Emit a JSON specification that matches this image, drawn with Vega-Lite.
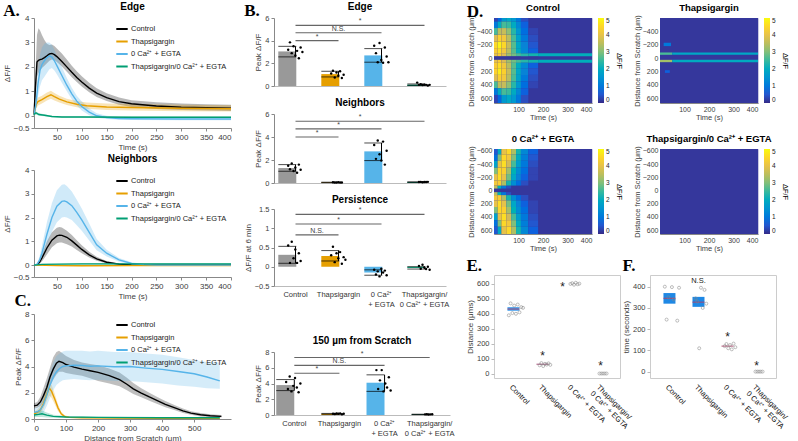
{
"$schema": "https://vega.github.io/schema/vega-lite/v6.json",
"background": "white",
"padding": {"left": 3, "right": 2, "top": 2, "bottom": 0},
"config": {
  "font": "Liberation Sans",
  "view": {"stroke": null},
  "axis": {"labelFontSize": 7.5, "titleFontSize": 8, "titleFontWeight": "normal", "labelColor": "#404040", "titleColor": "#404040", "domainColor": "#888888", "tickColor": "#888888", "grid": false, "tickSize": 3, "labelPadding": 2, "titlePadding": 2, "labelOverlap": false},
  "title": {"fontSize": 10, "fontWeight": "bold", "color": "#000000", "offset": 2},
  "legend": {"labelFontSize": 7.5, "labelColor": "#222222"}
},
"datasets": {
  "ed": [
    {"s":"Control","t":4,"v":0.05,"lo":0,"hi":0.1},{"s":"Control","t":7,"v":1.2,"lo":0.8,"hi":1.8},{"s":"Control","t":10,"v":2.2,"lo":1.6,"hi":3.3},{"s":"Control","t":13,"v":2.27,"lo":1.75,"hi":3.58},{"s":"Control","t":16,"v":2.3,"lo":1.85,"hi":3.5},{"s":"Control","t":20,"v":2.32,"lo":1.95,"hi":3.3},{"s":"Control","t":25,"v":2.38,"lo":2.05,"hi":3.1},{"s":"Control","t":30,"v":2.45,"lo":2.15,"hi":2.95},{"s":"Control","t":35,"v":2.53,"lo":2.25,"hi":2.9},{"s":"Control","t":40,"v":2.55,"lo":2.3,"hi":2.92},{"s":"Control","t":45,"v":2.5,"lo":2.28,"hi":2.85},{"s":"Control","t":50,"v":2.42,"lo":2.2,"hi":2.75},{"s":"Control","t":60,"v":2.22,"lo":2.02,"hi":2.55},{"s":"Control","t":70,"v":2.0,"lo":1.8,"hi":2.3},{"s":"Control","t":80,"v":1.78,"lo":1.58,"hi":2.05},{"s":"Control","t":90,"v":1.57,"lo":1.38,"hi":1.82},{"s":"Control","t":100,"v":1.38,"lo":1.2,"hi":1.62},{"s":"Control","t":115,"v":1.13,"lo":0.96,"hi":1.35},{"s":"Control","t":130,"v":0.93,"lo":0.77,"hi":1.13},{"s":"Control","t":150,"v":0.74,"lo":0.6,"hi":0.92},{"s":"Control","t":175,"v":0.58,"lo":0.45,"hi":0.75},{"s":"Control","t":200,"v":0.49,"lo":0.36,"hi":0.64},{"s":"Control","t":250,"v":0.4,"lo":0.28,"hi":0.55},{"s":"Control","t":300,"v":0.35,"lo":0.24,"hi":0.5},{"s":"Control","t":350,"v":0.33,"lo":0.22,"hi":0.47},{"s":"Control","t":400,"v":0.31,"lo":0.2,"hi":0.45},
    {"s":"Thapsigargin","t":4,"v":0.02,"lo":0,"hi":0.05},{"s":"Thapsigargin","t":8,"v":0.45,"lo":0.3,"hi":0.6},{"s":"Thapsigargin","t":12,"v":0.58,"lo":0.42,"hi":0.75},{"s":"Thapsigargin","t":20,"v":0.66,"lo":0.5,"hi":0.82},{"s":"Thapsigargin","t":30,"v":0.78,"lo":0.62,"hi":0.95},{"s":"Thapsigargin","t":38,"v":0.86,"lo":0.7,"hi":1.02},{"s":"Thapsigargin","t":45,"v":0.78,"lo":0.63,"hi":0.93},{"s":"Thapsigargin","t":55,"v":0.68,"lo":0.54,"hi":0.82},{"s":"Thapsigargin","t":70,"v":0.57,"lo":0.44,"hi":0.7},{"s":"Thapsigargin","t":90,"v":0.47,"lo":0.35,"hi":0.6},{"s":"Thapsigargin","t":110,"v":0.41,"lo":0.29,"hi":0.54},{"s":"Thapsigargin","t":150,"v":0.36,"lo":0.24,"hi":0.5},{"s":"Thapsigargin","t":200,"v":0.34,"lo":0.22,"hi":0.48},{"s":"Thapsigargin","t":300,"v":0.31,"lo":0.19,"hi":0.45},{"s":"Thapsigargin","t":400,"v":0.29,"lo":0.17,"hi":0.43},
    {"s":"0 Ca²⁺ + EGTA","t":4,"v":0.02,"lo":0,"hi":0.05},{"s":"0 Ca²⁺ + EGTA","t":8,"v":0.5,"lo":0.2,"hi":0.9},{"s":"0 Ca²⁺ + EGTA","t":12,"v":1.3,"lo":0.8,"hi":1.9},{"s":"0 Ca²⁺ + EGTA","t":16,"v":1.85,"lo":1.2,"hi":2.5},{"s":"0 Ca²⁺ + EGTA","t":20,"v":2.1,"lo":1.45,"hi":2.8},{"s":"0 Ca²⁺ + EGTA","t":25,"v":2.25,"lo":1.6,"hi":2.95},{"s":"0 Ca²⁺ + EGTA","t":30,"v":2.38,"lo":1.75,"hi":3.0},{"s":"0 Ca²⁺ + EGTA","t":35,"v":2.45,"lo":1.9,"hi":3.0},{"s":"0 Ca²⁺ + EGTA","t":40,"v":2.4,"lo":1.95,"hi":2.9},{"s":"0 Ca²⁺ + EGTA","t":45,"v":2.25,"lo":1.85,"hi":2.7},{"s":"0 Ca²⁺ + EGTA","t":50,"v":2.05,"lo":1.7,"hi":2.45},{"s":"0 Ca²⁺ + EGTA","t":60,"v":1.65,"lo":1.35,"hi":2.0},{"s":"0 Ca²⁺ + EGTA","t":70,"v":1.25,"lo":1.0,"hi":1.55},{"s":"0 Ca²⁺ + EGTA","t":80,"v":0.9,"lo":0.68,"hi":1.15},{"s":"0 Ca²⁺ + EGTA","t":90,"v":0.6,"lo":0.42,"hi":0.82},{"s":"0 Ca²⁺ + EGTA","t":100,"v":0.38,"lo":0.22,"hi":0.58},{"s":"0 Ca²⁺ + EGTA","t":115,"v":0.15,"lo":0.02,"hi":0.3},{"s":"0 Ca²⁺ + EGTA","t":130,"v":0.0,"lo":-0.08,"hi":0.1},{"s":"0 Ca²⁺ + EGTA","t":150,"v":-0.07,"lo":-0.13,"hi":0.0},{"s":"0 Ca²⁺ + EGTA","t":175,"v":-0.11,"lo":-0.16,"hi":-0.05},{"s":"0 Ca²⁺ + EGTA","t":200,"v":-0.12,"lo":-0.17,"hi":-0.07},{"s":"0 Ca²⁺ + EGTA","t":300,"v":-0.13,"lo":-0.18,"hi":-0.08},{"s":"0 Ca²⁺ + EGTA","t":400,"v":-0.13,"lo":-0.18,"hi":-0.08},
    {"s":"Thapsigargin/0 Ca²⁺ + EGTA","t":4,"v":0.05,"lo":0,"hi":0.1},{"s":"Thapsigargin/0 Ca²⁺ + EGTA","t":8,"v":0.12,"lo":0.05,"hi":0.18},{"s":"Thapsigargin/0 Ca²⁺ + EGTA","t":14,"v":0.05,"lo":0,"hi":0.1},{"s":"Thapsigargin/0 Ca²⁺ + EGTA","t":25,"v":0.02,"lo":-0.02,"hi":0.06},{"s":"Thapsigargin/0 Ca²⁺ + EGTA","t":40,"v":-0.03,"lo":-0.06,"hi":0},{"s":"Thapsigargin/0 Ca²⁺ + EGTA","t":60,"v":-0.05,"lo":-0.08,"hi":-0.02},{"s":"Thapsigargin/0 Ca²⁺ + EGTA","t":100,"v":-0.05,"lo":-0.08,"hi":-0.02},{"s":"Thapsigargin/0 Ca²⁺ + EGTA","t":200,"v":-0.06,"lo":-0.09,"hi":-0.03},{"s":"Thapsigargin/0 Ca²⁺ + EGTA","t":400,"v":-0.06,"lo":-0.09,"hi":-0.03}
  ],
  "nb": [
    {"s":"Control","t":4,"v":0,"lo":0,"hi":0.02},{"s":"Control","t":10,"v":0.02,"lo":0,"hi":0.05},{"s":"Control","t":15,"v":0.12,"lo":0.05,"hi":0.2},{"s":"Control","t":20,"v":0.3,"lo":0.15,"hi":0.45},{"s":"Control","t":30,"v":0.72,"lo":0.45,"hi":1.0},{"s":"Control","t":40,"v":1.05,"lo":0.75,"hi":1.38},{"s":"Control","t":50,"v":1.23,"lo":0.92,"hi":1.57},{"s":"Control","t":55,"v":1.26,"lo":0.95,"hi":1.6},{"s":"Control","t":60,"v":1.25,"lo":0.95,"hi":1.58},{"s":"Control","t":70,"v":1.17,"lo":0.88,"hi":1.45},{"s":"Control","t":80,"v":1.02,"lo":0.78,"hi":1.27},{"s":"Control","t":90,"v":0.84,"lo":0.64,"hi":1.05},{"s":"Control","t":100,"v":0.66,"lo":0.5,"hi":0.84},{"s":"Control","t":115,"v":0.43,"lo":0.32,"hi":0.56},{"s":"Control","t":130,"v":0.26,"lo":0.18,"hi":0.35},{"s":"Control","t":150,"v":0.12,"lo":0.07,"hi":0.17},{"s":"Control","t":175,"v":0.04,"lo":0.01,"hi":0.07},{"s":"Control","t":200,"v":0.01,"lo":-0.01,"hi":0.03},{"s":"Control","t":250,"v":0,"lo":-0.02,"hi":0.02},{"s":"Control","t":400,"v":0,"lo":-0.02,"hi":0.02},
    {"s":"Thapsigargin","t":4,"v":0,"lo":-0.01,"hi":0.01},{"s":"Thapsigargin","t":50,"v":-0.02,"lo":-0.04,"hi":0},{"s":"Thapsigargin","t":100,"v":-0.03,"lo":-0.05,"hi":-0.01},{"s":"Thapsigargin","t":200,"v":-0.02,"lo":-0.04,"hi":0},{"s":"Thapsigargin","t":400,"v":-0.02,"lo":-0.04,"hi":0},
    {"s":"0 Ca²⁺ + EGTA","t":4,"v":0,"lo":0,"hi":0.02},{"s":"0 Ca²⁺ + EGTA","t":10,"v":0.03,"lo":0,"hi":0.08},{"s":"0 Ca²⁺ + EGTA","t":15,"v":0.2,"lo":0.08,"hi":0.35},{"s":"0 Ca²⁺ + EGTA","t":20,"v":0.5,"lo":0.25,"hi":0.8},{"s":"0 Ca²⁺ + EGTA","t":30,"v":1.3,"lo":0.85,"hi":1.8},{"s":"0 Ca²⁺ + EGTA","t":40,"v":2.0,"lo":1.4,"hi":2.6},{"s":"0 Ca²⁺ + EGTA","t":50,"v":2.48,"lo":1.8,"hi":3.15},{"s":"0 Ca²⁺ + EGTA","t":60,"v":2.68,"lo":2.0,"hi":3.38},{"s":"0 Ca²⁺ + EGTA","t":65,"v":2.7,"lo":2.02,"hi":3.4},{"s":"0 Ca²⁺ + EGTA","t":70,"v":2.66,"lo":2.0,"hi":3.33},{"s":"0 Ca²⁺ + EGTA","t":80,"v":2.5,"lo":1.9,"hi":3.1},{"s":"0 Ca²⁺ + EGTA","t":90,"v":2.22,"lo":1.68,"hi":2.75},{"s":"0 Ca²⁺ + EGTA","t":100,"v":1.9,"lo":1.45,"hi":2.38},{"s":"0 Ca²⁺ + EGTA","t":115,"v":1.38,"lo":1.04,"hi":1.75},{"s":"0 Ca²⁺ + EGTA","t":130,"v":0.85,"lo":0.63,"hi":1.1},{"s":"0 Ca²⁺ + EGTA","t":150,"v":0.5,"lo":0.36,"hi":0.65},{"s":"0 Ca²⁺ + EGTA","t":175,"v":0.22,"lo":0.14,"hi":0.3},{"s":"0 Ca²⁺ + EGTA","t":200,"v":0.07,"lo":0.03,"hi":0.12},{"s":"0 Ca²⁺ + EGTA","t":225,"v":0.02,"lo":-0.01,"hi":0.05},{"s":"0 Ca²⁺ + EGTA","t":250,"v":0,"lo":-0.02,"hi":0.02},{"s":"0 Ca²⁺ + EGTA","t":400,"v":0,"lo":-0.02,"hi":0.02},
    {"s":"Thapsigargin/0 Ca²⁺ + EGTA","t":4,"v":0,"lo":-0.01,"hi":0.01},{"s":"Thapsigargin/0 Ca²⁺ + EGTA","t":20,"v":0.03,"lo":0,"hi":0.06},{"s":"Thapsigargin/0 Ca²⁺ + EGTA","t":100,"v":0.05,"lo":0.02,"hi":0.08},{"s":"Thapsigargin/0 Ca²⁺ + EGTA","t":200,"v":0.05,"lo":0.02,"hi":0.08},{"s":"Thapsigargin/0 Ca²⁺ + EGTA","t":400,"v":0.05,"lo":0.02,"hi":0.08}
  ],
  "cd": [
    {"s":"Control","d":0,"v":1.0,"lo":0.8,"hi":1.2},{"s":"Control","d":10,"v":1.05,"lo":0.85,"hi":1.3},{"s":"Control","d":20,"v":1.3,"lo":1.0,"hi":1.7},{"s":"Control","d":30,"v":1.8,"lo":1.3,"hi":2.4},{"s":"Control","d":40,"v":2.4,"lo":1.8,"hi":3.1},{"s":"Control","d":50,"v":3.2,"lo":2.5,"hi":3.9},{"s":"Control","d":60,"v":3.8,"lo":3.0,"hi":4.7},{"s":"Control","d":70,"v":4.25,"lo":3.4,"hi":5.1},{"s":"Control","d":78,"v":4.4,"lo":3.6,"hi":5.2},{"s":"Control","d":90,"v":4.3,"lo":3.6,"hi":5.0},{"s":"Control","d":100,"v":4.15,"lo":3.5,"hi":4.8},{"s":"Control","d":125,"v":3.95,"lo":3.4,"hi":4.5},{"s":"Control","d":150,"v":3.8,"lo":3.3,"hi":4.3},{"s":"Control","d":175,"v":3.68,"lo":3.1,"hi":4.2},{"s":"Control","d":200,"v":3.55,"lo":2.9,"hi":4.1},{"s":"Control","d":235,"v":3.3,"lo":2.7,"hi":3.85},{"s":"Control","d":267,"v":3.0,"lo":2.5,"hi":3.55},{"s":"Control","d":290,"v":2.65,"lo":2.2,"hi":3.15},{"s":"Control","d":310,"v":2.3,"lo":1.9,"hi":2.75},{"s":"Control","d":335,"v":1.98,"lo":1.65,"hi":2.35},{"s":"Control","d":360,"v":1.68,"lo":1.4,"hi":2.0},{"s":"Control","d":385,"v":1.4,"lo":1.15,"hi":1.68},{"s":"Control","d":410,"v":1.12,"lo":0.9,"hi":1.38},{"s":"Control","d":440,"v":0.85,"lo":0.66,"hi":1.05},{"s":"Control","d":465,"v":0.62,"lo":0.46,"hi":0.8},{"s":"Control","d":490,"v":0.45,"lo":0.32,"hi":0.6},{"s":"Control","d":520,"v":0.32,"lo":0.2,"hi":0.45},{"s":"Control","d":550,"v":0.25,"lo":0.15,"hi":0.36},{"s":"Control","d":585,"v":0.2,"lo":0.12,"hi":0.3},
    {"s":"Thapsigargin","d":0,"v":0.4,"lo":0.3,"hi":0.55},{"s":"Thapsigargin","d":10,"v":0.5,"lo":0.35,"hi":0.7},{"s":"Thapsigargin","d":20,"v":0.7,"lo":0.45,"hi":1.0},{"s":"Thapsigargin","d":30,"v":1.2,"lo":0.8,"hi":1.6},{"s":"Thapsigargin","d":40,"v":1.9,"lo":1.4,"hi":2.5},{"s":"Thapsigargin","d":48,"v":2.35,"lo":1.8,"hi":2.9},{"s":"Thapsigargin","d":55,"v":2.1,"lo":1.6,"hi":2.6},{"s":"Thapsigargin","d":65,"v":1.5,"lo":1.1,"hi":1.9},{"s":"Thapsigargin","d":75,"v":0.85,"lo":0.6,"hi":1.1},{"s":"Thapsigargin","d":85,"v":0.4,"lo":0.28,"hi":0.55},{"s":"Thapsigargin","d":95,"v":0.2,"lo":0.12,"hi":0.3},{"s":"Thapsigargin","d":110,"v":0.12,"lo":0.07,"hi":0.17},{"s":"Thapsigargin","d":150,"v":0.1,"lo":0.06,"hi":0.14},{"s":"Thapsigargin","d":250,"v":0.08,"lo":0.05,"hi":0.11},{"s":"Thapsigargin","d":400,"v":0.06,"lo":0.04,"hi":0.09},{"s":"Thapsigargin","d":580,"v":0.05,"lo":0.03,"hi":0.08},
    {"s":"0 Ca²⁺ + EGTA","d":0,"v":0.5,"lo":0.3,"hi":0.8},{"s":"0 Ca²⁺ + EGTA","d":10,"v":0.55,"lo":0.3,"hi":0.9},{"s":"0 Ca²⁺ + EGTA","d":20,"v":0.7,"lo":0.35,"hi":1.2},{"s":"0 Ca²⁺ + EGTA","d":30,"v":1.1,"lo":0.5,"hi":1.8},{"s":"0 Ca²⁺ + EGTA","d":40,"v":1.8,"lo":1.0,"hi":2.7},{"s":"0 Ca²⁺ + EGTA","d":50,"v":2.6,"lo":1.6,"hi":3.6},{"s":"0 Ca²⁺ + EGTA","d":60,"v":3.2,"lo":2.2,"hi":4.3},{"s":"0 Ca²⁺ + EGTA","d":70,"v":3.6,"lo":2.6,"hi":4.8},{"s":"0 Ca²⁺ + EGTA","d":80,"v":3.85,"lo":2.8,"hi":5.0},{"s":"0 Ca²⁺ + EGTA","d":90,"v":4.0,"lo":2.95,"hi":5.15},{"s":"0 Ca²⁺ + EGTA","d":100,"v":4.05,"lo":3.0,"hi":5.2},{"s":"0 Ca²⁺ + EGTA","d":125,"v":4.1,"lo":3.05,"hi":5.2},{"s":"0 Ca²⁺ + EGTA","d":150,"v":4.08,"lo":3.0,"hi":5.2},{"s":"0 Ca²⁺ + EGTA","d":175,"v":4.02,"lo":2.95,"hi":5.15},{"s":"0 Ca²⁺ + EGTA","d":200,"v":4.05,"lo":3.0,"hi":5.2},{"s":"0 Ca²⁺ + EGTA","d":250,"v":3.98,"lo":2.9,"hi":5.1},{"s":"0 Ca²⁺ + EGTA","d":300,"v":4.0,"lo":2.9,"hi":5.1},{"s":"0 Ca²⁺ + EGTA","d":350,"v":3.88,"lo":2.8,"hi":5.0},{"s":"0 Ca²⁺ + EGTA","d":400,"v":3.78,"lo":2.7,"hi":4.9},{"s":"0 Ca²⁺ + EGTA","d":450,"v":3.62,"lo":2.55,"hi":4.7},{"s":"0 Ca²⁺ + EGTA","d":500,"v":3.45,"lo":2.45,"hi":4.5},{"s":"0 Ca²⁺ + EGTA","d":540,"v":3.2,"lo":2.35,"hi":4.35},{"s":"0 Ca²⁺ + EGTA","d":580,"v":2.9,"lo":2.3,"hi":4.3},
    {"s":"Thapsigargin/0 Ca²⁺ + EGTA","d":0,"v":0.3,"lo":0.15,"hi":0.5},{"s":"Thapsigargin/0 Ca²⁺ + EGTA","d":15,"v":0.35,"lo":0.15,"hi":0.6},{"s":"Thapsigargin/0 Ca²⁺ + EGTA","d":25,"v":0.4,"lo":0.15,"hi":0.65},{"s":"Thapsigargin/0 Ca²⁺ + EGTA","d":40,"v":0.3,"lo":0.12,"hi":0.5},{"s":"Thapsigargin/0 Ca²⁺ + EGTA","d":60,"v":0.2,"lo":0.1,"hi":0.32},{"s":"Thapsigargin/0 Ca²⁺ + EGTA","d":100,"v":0.15,"lo":0.08,"hi":0.22},{"s":"Thapsigargin/0 Ca²⁺ + EGTA","d":200,"v":0.12,"lo":0.07,"hi":0.17},{"s":"Thapsigargin/0 Ca²⁺ + EGTA","d":400,"v":0.1,"lo":0.06,"hi":0.14},{"s":"Thapsigargin/0 Ca²⁺ + EGTA","d":580,"v":0.1,"lo":0.06,"hi":0.14}
  ],
  "bars": [
    {"p":"Edge","g":"Control","m":3.05,"lo":2.57,"hi":3.5},{"p":"Edge","g":"Thapsigargin","m":1.05,"lo":0.8,"hi":1.3},{"p":"Edge","g":"0 Ca²⁺ + EGTA","m":2.7,"lo":2.1,"hi":3.3},{"p":"Edge","g":"Thapsigargin/0 Ca²⁺ + EGTA","m":0.12,"lo":0.06,"hi":0.18},
    {"p":"Nb","g":"Control","m":1.3,"lo":1.02,"hi":1.6},{"p":"Nb","g":"Thapsigargin","m":0.05,"lo":0.03,"hi":0.07},{"p":"Nb","g":"0 Ca²⁺ + EGTA","m":2.75,"lo":1.95,"hi":3.48},{"p":"Nb","g":"Thapsigargin/0 Ca²⁺ + EGTA","m":0.08,"lo":0.06,"hi":0.1},
    {"p":"Pers","g":"Control","m":0.31,"lo":0.09,"hi":0.53},{"p":"Pers","g":"Thapsigargin","m":0.28,"lo":0.15,"hi":0.42},{"p":"Pers","g":"0 Ca²⁺ + EGTA","m":-0.15,"lo":-0.22,"hi":-0.08},{"p":"Pers","g":"Thapsigargin/0 Ca²⁺ + EGTA","m":-0.03,"lo":-0.06,"hi":0.0},
    {"p":"150","g":"Control","m":3.8,"lo":3.1,"hi":4.5},{"p":"150","g":"Thapsigargin","m":0.15,"lo":0.1,"hi":0.2},{"p":"150","g":"0 Ca²⁺ + EGTA","m":4.1,"lo":3.0,"hi":5.1},{"p":"150","g":"Thapsigargin/0 Ca²⁺ + EGTA","m":0.08,"lo":0.05,"hi":0.1}
  ],
  "pts": [
    {"p":"Edge","g":"Control","n":1,"v":3.2},{"p":"Edge","g":"Control","n":2,"v":3.85},{"p":"Edge","g":"Control","n":3,"v":2.9},{"p":"Edge","g":"Control","n":4,"v":3.5},{"p":"Edge","g":"Control","n":5,"v":2.7},{"p":"Edge","g":"Control","n":6,"v":3.1},{"p":"Edge","g":"Control","n":7,"v":2.45},{"p":"Edge","g":"Control","n":8,"v":3.4},{"p":"Edge","g":"Control","n":9,"v":3.0},
    {"p":"Edge","g":"Thapsigargin","n":1,"v":1.1},{"p":"Edge","g":"Thapsigargin","n":2,"v":1.35},{"p":"Edge","g":"Thapsigargin","n":3,"v":0.75},{"p":"Edge","g":"Thapsigargin","n":4,"v":1.2},{"p":"Edge","g":"Thapsigargin","n":5,"v":0.9},{"p":"Edge","g":"Thapsigargin","n":6,"v":1.3},{"p":"Edge","g":"Thapsigargin","n":7,"v":0.7},{"p":"Edge","g":"Thapsigargin","n":8,"v":1.0},
    {"p":"Edge","g":"0 Ca²⁺ + EGTA","n":1,"v":3.55},{"p":"Edge","g":"0 Ca²⁺ + EGTA","n":2,"v":2.9},{"p":"Edge","g":"0 Ca²⁺ + EGTA","n":3,"v":2.1},{"p":"Edge","g":"0 Ca²⁺ + EGTA","n":4,"v":3.8},{"p":"Edge","g":"0 Ca²⁺ + EGTA","n":5,"v":2.3},{"p":"Edge","g":"0 Ca²⁺ + EGTA","n":6,"v":2.05},{"p":"Edge","g":"0 Ca²⁺ + EGTA","n":7,"v":3.4},{"p":"Edge","g":"0 Ca²⁺ + EGTA","n":8,"v":2.6},{"p":"Edge","g":"0 Ca²⁺ + EGTA","n":9,"v":2.1},
    {"p":"Edge","g":"Thapsigargin/0 Ca²⁺ + EGTA","n":1,"v":0.3},{"p":"Edge","g":"Thapsigargin/0 Ca²⁺ + EGTA","n":2,"v":0.1},{"p":"Edge","g":"Thapsigargin/0 Ca²⁺ + EGTA","n":3,"v":0.15},{"p":"Edge","g":"Thapsigargin/0 Ca²⁺ + EGTA","n":4,"v":0.08},{"p":"Edge","g":"Thapsigargin/0 Ca²⁺ + EGTA","n":5,"v":0.12},{"p":"Edge","g":"Thapsigargin/0 Ca²⁺ + EGTA","n":6,"v":0.1},{"p":"Edge","g":"Thapsigargin/0 Ca²⁺ + EGTA","n":7,"v":0.05},{"p":"Edge","g":"Thapsigargin/0 Ca²⁺ + EGTA","n":8,"v":0.1},
    {"p":"Nb","g":"Control","n":1,"v":1.5},{"p":"Nb","g":"Control","n":2,"v":1.2},{"p":"Nb","g":"Control","n":3,"v":1.7},{"p":"Nb","g":"Control","n":4,"v":1.05},{"p":"Nb","g":"Control","n":5,"v":1.35},{"p":"Nb","g":"Control","n":6,"v":0.9},{"p":"Nb","g":"Control","n":7,"v":1.6},{"p":"Nb","g":"Control","n":8,"v":1.15},
    {"p":"Nb","g":"Thapsigargin","n":2,"v":0.06},{"p":"Nb","g":"Thapsigargin","n":3,"v":0.04},{"p":"Nb","g":"Thapsigargin","n":4,"v":0.05},{"p":"Nb","g":"Thapsigargin","n":5,"v":0.07},{"p":"Nb","g":"Thapsigargin","n":6,"v":0.05},{"p":"Nb","g":"Thapsigargin","n":7,"v":0.04},
    {"p":"Nb","g":"0 Ca²⁺ + EGTA","n":1,"v":3.3},{"p":"Nb","g":"0 Ca²⁺ + EGTA","n":2,"v":2.1},{"p":"Nb","g":"0 Ca²⁺ + EGTA","n":3,"v":3.7},{"p":"Nb","g":"0 Ca²⁺ + EGTA","n":4,"v":2.5},{"p":"Nb","g":"0 Ca²⁺ + EGTA","n":5,"v":1.95},{"p":"Nb","g":"0 Ca²⁺ + EGTA","n":6,"v":3.6},{"p":"Nb","g":"0 Ca²⁺ + EGTA","n":7,"v":1.6},{"p":"Nb","g":"0 Ca²⁺ + EGTA","n":8,"v":2.8},
    {"p":"Nb","g":"Thapsigargin/0 Ca²⁺ + EGTA","n":2,"v":0.08},{"p":"Nb","g":"Thapsigargin/0 Ca²⁺ + EGTA","n":3,"v":0.1},{"p":"Nb","g":"Thapsigargin/0 Ca²⁺ + EGTA","n":4,"v":0.07},{"p":"Nb","g":"Thapsigargin/0 Ca²⁺ + EGTA","n":5,"v":0.09},{"p":"Nb","g":"Thapsigargin/0 Ca²⁺ + EGTA","n":6,"v":0.08},{"p":"Nb","g":"Thapsigargin/0 Ca²⁺ + EGTA","n":7,"v":0.1},
    {"p":"Pers","g":"Control","n":1,"v":0.55},{"p":"Pers","g":"Control","n":2,"v":0.1},{"p":"Pers","g":"Control","n":3,"v":0.65},{"p":"Pers","g":"Control","n":4,"v":0.22},{"p":"Pers","g":"Control","n":5,"v":0.45},{"p":"Pers","g":"Control","n":6,"v":0.1},{"p":"Pers","g":"Control","n":7,"v":0.35},{"p":"Pers","g":"Control","n":8,"v":0.15},
    {"p":"Pers","g":"Thapsigargin","n":1,"v":0.3},{"p":"Pers","g":"Thapsigargin","n":2,"v":0.52},{"p":"Pers","g":"Thapsigargin","n":3,"v":0.12},{"p":"Pers","g":"Thapsigargin","n":4,"v":0.35},{"p":"Pers","g":"Thapsigargin","n":5,"v":0.22},{"p":"Pers","g":"Thapsigargin","n":6,"v":0.38},{"p":"Pers","g":"Thapsigargin","n":7,"v":0.08},{"p":"Pers","g":"Thapsigargin","n":8,"v":0.25},{"p":"Pers","g":"Thapsigargin","n":9,"v":0.18},
    {"p":"Pers","g":"0 Ca²⁺ + EGTA","n":1,"v":-0.08},{"p":"Pers","g":"0 Ca²⁺ + EGTA","n":2,"v":-0.2},{"p":"Pers","g":"0 Ca²⁺ + EGTA","n":3,"v":-0.12},{"p":"Pers","g":"0 Ca²⁺ + EGTA","n":4,"v":-0.25},{"p":"Pers","g":"0 Ca²⁺ + EGTA","n":5,"v":-0.05},{"p":"Pers","g":"0 Ca²⁺ + EGTA","n":6,"v":-0.15},{"p":"Pers","g":"0 Ca²⁺ + EGTA","n":7,"v":-0.1},{"p":"Pers","g":"0 Ca²⁺ + EGTA","n":8,"v":-0.22},
    {"p":"Pers","g":"Thapsigargin/0 Ca²⁺ + EGTA","n":2,"v":0.02},{"p":"Pers","g":"Thapsigargin/0 Ca²⁺ + EGTA","n":3,"v":-0.05},{"p":"Pers","g":"Thapsigargin/0 Ca²⁺ + EGTA","n":4,"v":0.05},{"p":"Pers","g":"Thapsigargin/0 Ca²⁺ + EGTA","n":5,"v":-0.02},{"p":"Pers","g":"Thapsigargin/0 Ca²⁺ + EGTA","n":6,"v":-0.06},{"p":"Pers","g":"Thapsigargin/0 Ca²⁺ + EGTA","n":7,"v":0},{"p":"Pers","g":"Thapsigargin/0 Ca²⁺ + EGTA","n":8,"v":-0.08},
    {"p":"150","g":"Control","n":1,"v":4.2},{"p":"150","g":"Control","n":2,"v":3.3},{"p":"150","g":"Control","n":3,"v":4.9},{"p":"150","g":"Control","n":4,"v":3.0},{"p":"150","g":"Control","n":5,"v":3.7},{"p":"150","g":"Control","n":6,"v":4.7},{"p":"150","g":"Control","n":7,"v":3.5},{"p":"150","g":"Control","n":8,"v":2.9},{"p":"150","g":"Control","n":9,"v":4.0},
    {"p":"150","g":"Thapsigargin","n":2,"v":0.15},{"p":"150","g":"Thapsigargin","n":3,"v":0.12},{"p":"150","g":"Thapsigargin","n":4,"v":0.2},{"p":"150","g":"Thapsigargin","n":5,"v":0.15},{"p":"150","g":"Thapsigargin","n":6,"v":0.18},{"p":"150","g":"Thapsigargin","n":7,"v":0.1},{"p":"150","g":"Thapsigargin","n":8,"v":0.15},
    {"p":"150","g":"0 Ca²⁺ + EGTA","n":1,"v":5.7},{"p":"150","g":"0 Ca²⁺ + EGTA","n":2,"v":3.3},{"p":"150","g":"0 Ca²⁺ + EGTA","n":3,"v":4.4},{"p":"150","g":"0 Ca²⁺ + EGTA","n":4,"v":5.7},{"p":"150","g":"0 Ca²⁺ + EGTA","n":5,"v":3.0},{"p":"150","g":"0 Ca²⁺ + EGTA","n":6,"v":4.0},{"p":"150","g":"0 Ca²⁺ + EGTA","n":7,"v":3.5},{"p":"150","g":"0 Ca²⁺ + EGTA","n":8,"v":4.8},{"p":"150","g":"0 Ca²⁺ + EGTA","n":9,"v":3.1},
    {"p":"150","g":"Thapsigargin/0 Ca²⁺ + EGTA","n":3,"v":0.08},{"p":"150","g":"Thapsigargin/0 Ca²⁺ + EGTA","n":4,"v":0.1},{"p":"150","g":"Thapsigargin/0 Ca²⁺ + EGTA","n":5,"v":0.06},{"p":"150","g":"Thapsigargin/0 Ca²⁺ + EGTA","n":6,"v":0.08},{"p":"150","g":"Thapsigargin/0 Ca²⁺ + EGTA","n":7,"v":0.09}
  ],
  "sig": [
    {"p":"Edge","from":"Control","to":"Thapsigargin","y":4.0,"l":"*"},{"p":"Edge","from":"Control","to":"0 Ca²⁺ + EGTA","y":4.7,"l":"N.S."},{"p":"Edge","from":"Control","to":"Thapsigargin/0 Ca²⁺ + EGTA","y":5.35,"l":"*"},
    {"p":"Nb","from":"Control","to":"Thapsigargin","y":4.0,"l":"*"},{"p":"Nb","from":"Control","to":"0 Ca²⁺ + EGTA","y":4.7,"l":"*"},{"p":"Nb","from":"Control","to":"Thapsigargin/0 Ca²⁺ + EGTA","y":5.37,"l":"*"},
    {"p":"Pers","from":"Control","to":"Thapsigargin","y":0.83,"l":"N.S."},{"p":"Pers","from":"Control","to":"0 Ca²⁺ + EGTA","y":1.11,"l":"*"},{"p":"Pers","from":"Control","to":"Thapsigargin/0 Ca²⁺ + EGTA","y":1.36,"l":"*"},
    {"p":"150","from":"Control","to":"Thapsigargin","y":5.3,"l":"*"},{"p":"150","from":"Control","to":"0 Ca²⁺ + EGTA","y":6.3,"l":"N.S."},{"p":"150","from":"Control","to":"Thapsigargin/0 Ca²⁺ + EGTA","y":7.3,"l":"*"}
  ],
  "hC": [
    {"t":0,"t2":400,"d":-640,"d2":680,"v":0.15},
    {"t":0,"t2":15,"d":25,"d2":70,"v":4.0},{"t":15,"t2":30,"d":25,"d2":70,"v":4.3},{"t":30,"t2":50,"d":25,"d2":70,"v":3.8},{"t":50,"t2":70,"d":25,"d2":70,"v":3.3},{"t":70,"t2":90,"d":25,"d2":70,"v":2.9},{"t":90,"t2":110,"d":25,"d2":70,"v":2.6},{"t":110,"t2":140,"d":25,"d2":70,"v":2.4},{"t":140,"t2":180,"d":25,"d2":70,"v":2.3},{"t":180,"t2":400,"d":25,"d2":70,"v":2.1},
    {"t":0,"t2":15,"d":70,"d2":150,"v":4.3},{"t":15,"t2":30,"d":70,"d2":150,"v":4.6},{"t":30,"t2":50,"d":70,"d2":150,"v":4.2},{"t":50,"t2":70,"d":70,"d2":150,"v":3.5},{"t":70,"t2":90,"d":70,"d2":150,"v":2.7},{"t":90,"t2":110,"d":70,"d2":150,"v":2.0},{"t":110,"t2":140,"d":70,"d2":150,"v":1.3},{"t":140,"t2":180,"d":70,"d2":150,"v":0.6},
    {"t":0,"t2":15,"d":150,"d2":250,"v":4.4},{"t":15,"t2":30,"d":150,"d2":250,"v":4.8},{"t":30,"t2":50,"d":150,"d2":250,"v":4.4},{"t":50,"t2":70,"d":150,"d2":250,"v":3.6},{"t":70,"t2":90,"d":150,"d2":250,"v":2.7},{"t":90,"t2":110,"d":150,"d2":250,"v":1.9},{"t":110,"t2":140,"d":150,"d2":250,"v":1.2},{"t":140,"t2":180,"d":150,"d2":250,"v":0.5},
    {"t":0,"t2":15,"d":250,"d2":350,"v":3.8},{"t":15,"t2":30,"d":250,"d2":350,"v":4.4},{"t":30,"t2":50,"d":250,"d2":350,"v":4.2},{"t":50,"t2":70,"d":250,"d2":350,"v":3.5},{"t":70,"t2":90,"d":250,"d2":350,"v":2.6},{"t":90,"t2":110,"d":250,"d2":350,"v":1.8},{"t":110,"t2":140,"d":250,"d2":350,"v":1.0},{"t":140,"t2":180,"d":250,"d2":350,"v":0.4},
    {"t":0,"t2":15,"d":350,"d2":450,"v":2.6},{"t":15,"t2":30,"d":350,"d2":450,"v":3.5},{"t":30,"t2":50,"d":350,"d2":450,"v":3.6},{"t":50,"t2":70,"d":350,"d2":450,"v":3.1},{"t":70,"t2":90,"d":350,"d2":450,"v":2.4},{"t":90,"t2":110,"d":350,"d2":450,"v":1.6},{"t":110,"t2":140,"d":350,"d2":450,"v":0.8},{"t":140,"t2":180,"d":350,"d2":450,"v":0.3},
    {"t":0,"t2":15,"d":450,"d2":550,"v":1.0},{"t":15,"t2":30,"d":450,"d2":550,"v":2.0},{"t":30,"t2":50,"d":450,"d2":550,"v":2.6},{"t":50,"t2":70,"d":450,"d2":550,"v":2.5},{"t":70,"t2":90,"d":450,"d2":550,"v":2.0},{"t":90,"t2":110,"d":450,"d2":550,"v":1.3},{"t":110,"t2":140,"d":450,"d2":550,"v":0.6},
    {"t":0,"t2":15,"d":550,"d2":680,"v":0.3},{"t":15,"t2":30,"d":550,"d2":680,"v":0.7},{"t":30,"t2":50,"d":550,"d2":680,"v":1.6},{"t":50,"t2":70,"d":550,"d2":680,"v":1.9},{"t":70,"t2":90,"d":550,"d2":680,"v":1.6},{"t":90,"t2":110,"d":550,"d2":680,"v":1.0},{"t":110,"t2":140,"d":550,"d2":680,"v":0.4},
    {"t":0,"t2":15,"d":-75,"d2":-30,"v":4.0},{"t":15,"t2":30,"d":-75,"d2":-30,"v":4.3},{"t":30,"t2":50,"d":-75,"d2":-30,"v":3.8},{"t":50,"t2":70,"d":-75,"d2":-30,"v":3.3},{"t":70,"t2":90,"d":-75,"d2":-30,"v":2.9},{"t":90,"t2":110,"d":-75,"d2":-30,"v":2.6},{"t":110,"t2":140,"d":-75,"d2":-30,"v":2.4},{"t":140,"t2":180,"d":-75,"d2":-30,"v":2.3},{"t":180,"t2":400,"d":-75,"d2":-30,"v":2.1},
    {"t":0,"t2":15,"d":-150,"d2":-75,"v":4.3},{"t":15,"t2":30,"d":-150,"d2":-75,"v":4.6},{"t":30,"t2":50,"d":-150,"d2":-75,"v":4.2},{"t":50,"t2":70,"d":-150,"d2":-75,"v":3.5},{"t":70,"t2":90,"d":-150,"d2":-75,"v":2.7},{"t":90,"t2":110,"d":-150,"d2":-75,"v":2.0},{"t":110,"t2":140,"d":-150,"d2":-75,"v":1.3},{"t":140,"t2":180,"d":-150,"d2":-75,"v":0.6},
    {"t":0,"t2":15,"d":-250,"d2":-150,"v":4.5},{"t":15,"t2":30,"d":-250,"d2":-150,"v":4.9},{"t":30,"t2":50,"d":-250,"d2":-150,"v":4.5},{"t":50,"t2":70,"d":-250,"d2":-150,"v":3.6},{"t":70,"t2":90,"d":-250,"d2":-150,"v":2.7},{"t":90,"t2":110,"d":-250,"d2":-150,"v":1.9},{"t":110,"t2":140,"d":-250,"d2":-150,"v":1.2},{"t":140,"t2":180,"d":-250,"d2":-150,"v":0.5},
    {"t":0,"t2":15,"d":-350,"d2":-250,"v":3.8},{"t":15,"t2":30,"d":-350,"d2":-250,"v":4.4},{"t":30,"t2":50,"d":-350,"d2":-250,"v":4.2},{"t":50,"t2":70,"d":-350,"d2":-250,"v":3.5},{"t":70,"t2":90,"d":-350,"d2":-250,"v":2.6},{"t":90,"t2":110,"d":-350,"d2":-250,"v":1.8},{"t":110,"t2":140,"d":-350,"d2":-250,"v":1.0},{"t":140,"t2":180,"d":-350,"d2":-250,"v":0.4},
    {"t":0,"t2":15,"d":-450,"d2":-350,"v":2.6},{"t":15,"t2":30,"d":-450,"d2":-350,"v":3.5},{"t":30,"t2":50,"d":-450,"d2":-350,"v":3.6},{"t":50,"t2":70,"d":-450,"d2":-350,"v":3.1},{"t":70,"t2":90,"d":-450,"d2":-350,"v":2.4},{"t":90,"t2":110,"d":-450,"d2":-350,"v":1.6},{"t":110,"t2":140,"d":-450,"d2":-350,"v":0.8},{"t":140,"t2":180,"d":-450,"d2":-350,"v":0.3},
    {"t":0,"t2":15,"d":-550,"d2":-450,"v":1.0},{"t":15,"t2":30,"d":-550,"d2":-450,"v":2.0},{"t":30,"t2":50,"d":-550,"d2":-450,"v":2.6},{"t":50,"t2":70,"d":-550,"d2":-450,"v":2.5},{"t":70,"t2":90,"d":-550,"d2":-450,"v":2.0},{"t":90,"t2":110,"d":-550,"d2":-450,"v":1.3},{"t":110,"t2":140,"d":-550,"d2":-450,"v":0.6},
    {"t":0,"t2":15,"d":-640,"d2":-550,"v":0.3},{"t":15,"t2":30,"d":-640,"d2":-550,"v":0.7},{"t":30,"t2":50,"d":-640,"d2":-550,"v":1.6},{"t":50,"t2":70,"d":-640,"d2":-550,"v":1.9},{"t":70,"t2":90,"d":-640,"d2":-550,"v":1.6},{"t":90,"t2":110,"d":-640,"d2":-550,"v":1.0},{"t":110,"t2":140,"d":-640,"d2":-550,"v":0.4}
  ],
  "hT": [
    {"t":0,"t2":400,"d":-640,"d2":680,"v":0.15},
    {"t":0,"t2":50,"d":-85,"d2":-50,"v":2.6},{"t":50,"t2":400,"d":-85,"d2":-50,"v":1.9},
    {"t":0,"t2":50,"d":25,"d2":60,"v":3.3},{"t":50,"t2":400,"d":25,"d2":60,"v":2.0},
    {"t":15,"t2":45,"d":-230,"d2":-180,"v":1.0},{"t":20,"t2":40,"d":180,"d2":220,"v":0.6}
  ],
  "h0": [
    {"t":0,"t2":400,"d":-640,"d2":680,"v":0.15},
    {"t":0,"t2":15,"d":25,"d2":70,"v":3.5},{"t":15,"t2":30,"d":25,"d2":70,"v":2.2},{"t":30,"t2":50,"d":25,"d2":70,"v":1.0},{"t":50,"t2":70,"d":25,"d2":70,"v":0.4},
    {"t":0,"t2":15,"d":70,"d2":150,"v":4.2},{"t":15,"t2":30,"d":70,"d2":150,"v":4.3},{"t":30,"t2":50,"d":70,"d2":150,"v":3.4},{"t":50,"t2":70,"d":70,"d2":150,"v":2.3},{"t":70,"t2":90,"d":70,"d2":150,"v":1.4},{"t":90,"t2":110,"d":70,"d2":150,"v":0.8},{"t":110,"t2":140,"d":70,"d2":150,"v":0.4},
    {"t":0,"t2":15,"d":150,"d2":250,"v":4.0},{"t":15,"t2":30,"d":150,"d2":250,"v":4.6},{"t":30,"t2":50,"d":150,"d2":250,"v":4.0},{"t":50,"t2":70,"d":150,"d2":250,"v":2.9},{"t":70,"t2":90,"d":150,"d2":250,"v":1.9},{"t":90,"t2":110,"d":150,"d2":250,"v":1.2},{"t":110,"t2":140,"d":150,"d2":250,"v":0.6},{"t":140,"t2":180,"d":150,"d2":250,"v":0.3},
    {"t":0,"t2":15,"d":250,"d2":350,"v":3.0},{"t":15,"t2":30,"d":250,"d2":350,"v":4.5},{"t":30,"t2":50,"d":250,"d2":350,"v":4.4},{"t":50,"t2":70,"d":250,"d2":350,"v":3.3},{"t":70,"t2":90,"d":250,"d2":350,"v":2.2},{"t":90,"t2":110,"d":250,"d2":350,"v":1.4},{"t":110,"t2":140,"d":250,"d2":350,"v":0.8},{"t":140,"t2":180,"d":250,"d2":350,"v":0.3},
    {"t":0,"t2":15,"d":350,"d2":450,"v":1.8},{"t":15,"t2":30,"d":350,"d2":450,"v":4.0},{"t":30,"t2":50,"d":350,"d2":450,"v":4.6},{"t":50,"t2":70,"d":350,"d2":450,"v":3.7},{"t":70,"t2":90,"d":350,"d2":450,"v":2.6},{"t":90,"t2":110,"d":350,"d2":450,"v":1.7},{"t":110,"t2":140,"d":350,"d2":450,"v":1.0},{"t":140,"t2":180,"d":350,"d2":450,"v":0.4},
    {"t":0,"t2":15,"d":450,"d2":550,"v":0.9},{"t":15,"t2":30,"d":450,"d2":550,"v":3.0},{"t":30,"t2":50,"d":450,"d2":550,"v":4.5},{"t":50,"t2":70,"d":450,"d2":550,"v":4.2},{"t":70,"t2":90,"d":450,"d2":550,"v":3.0},{"t":90,"t2":110,"d":450,"d2":550,"v":2.0},{"t":110,"t2":140,"d":450,"d2":550,"v":1.1},{"t":140,"t2":180,"d":450,"d2":550,"v":0.5},
    {"t":0,"t2":15,"d":550,"d2":680,"v":0.5},{"t":15,"t2":30,"d":550,"d2":680,"v":2.0},{"t":30,"t2":50,"d":550,"d2":680,"v":4.0},{"t":50,"t2":70,"d":550,"d2":680,"v":4.5},{"t":70,"t2":90,"d":550,"d2":680,"v":3.4},{"t":90,"t2":110,"d":550,"d2":680,"v":2.3},{"t":110,"t2":140,"d":550,"d2":680,"v":1.3},{"t":140,"t2":180,"d":550,"d2":680,"v":0.6},
    {"t":0,"t2":15,"d":-75,"d2":-30,"v":3.5},{"t":15,"t2":30,"d":-75,"d2":-30,"v":2.2},{"t":30,"t2":50,"d":-75,"d2":-30,"v":1.0},{"t":50,"t2":70,"d":-75,"d2":-30,"v":0.4},
    {"t":0,"t2":15,"d":-150,"d2":-75,"v":4.2},{"t":15,"t2":30,"d":-150,"d2":-75,"v":4.3},{"t":30,"t2":50,"d":-150,"d2":-75,"v":3.4},{"t":50,"t2":70,"d":-150,"d2":-75,"v":2.3},{"t":70,"t2":90,"d":-150,"d2":-75,"v":1.4},{"t":90,"t2":110,"d":-150,"d2":-75,"v":0.8},{"t":110,"t2":140,"d":-150,"d2":-75,"v":0.4},
    {"t":0,"t2":15,"d":-250,"d2":-150,"v":4.0},{"t":15,"t2":30,"d":-250,"d2":-150,"v":4.6},{"t":30,"t2":50,"d":-250,"d2":-150,"v":4.0},{"t":50,"t2":70,"d":-250,"d2":-150,"v":2.9},{"t":70,"t2":90,"d":-250,"d2":-150,"v":1.9},{"t":90,"t2":110,"d":-250,"d2":-150,"v":1.2},{"t":110,"t2":140,"d":-250,"d2":-150,"v":0.6},{"t":140,"t2":180,"d":-250,"d2":-150,"v":0.3},
    {"t":0,"t2":15,"d":-350,"d2":-250,"v":3.0},{"t":15,"t2":30,"d":-350,"d2":-250,"v":4.5},{"t":30,"t2":50,"d":-350,"d2":-250,"v":4.4},{"t":50,"t2":70,"d":-350,"d2":-250,"v":3.3},{"t":70,"t2":90,"d":-350,"d2":-250,"v":2.2},{"t":90,"t2":110,"d":-350,"d2":-250,"v":1.4},{"t":110,"t2":140,"d":-350,"d2":-250,"v":0.8},{"t":140,"t2":180,"d":-350,"d2":-250,"v":0.3},
    {"t":0,"t2":15,"d":-450,"d2":-350,"v":1.8},{"t":15,"t2":30,"d":-450,"d2":-350,"v":4.0},{"t":30,"t2":50,"d":-450,"d2":-350,"v":4.6},{"t":50,"t2":70,"d":-450,"d2":-350,"v":3.7},{"t":70,"t2":90,"d":-450,"d2":-350,"v":2.6},{"t":90,"t2":110,"d":-450,"d2":-350,"v":1.7},{"t":110,"t2":140,"d":-450,"d2":-350,"v":1.0},{"t":140,"t2":180,"d":-450,"d2":-350,"v":0.4},
    {"t":0,"t2":15,"d":-550,"d2":-450,"v":0.9},{"t":15,"t2":30,"d":-550,"d2":-450,"v":3.0},{"t":30,"t2":50,"d":-550,"d2":-450,"v":4.5},{"t":50,"t2":70,"d":-550,"d2":-450,"v":4.2},{"t":70,"t2":90,"d":-550,"d2":-450,"v":3.0},{"t":90,"t2":110,"d":-550,"d2":-450,"v":2.0},{"t":110,"t2":140,"d":-550,"d2":-450,"v":1.1},{"t":140,"t2":180,"d":-550,"d2":-450,"v":0.5},
    {"t":0,"t2":15,"d":-640,"d2":-550,"v":0.5},{"t":15,"t2":30,"d":-640,"d2":-550,"v":2.0},{"t":30,"t2":50,"d":-640,"d2":-550,"v":4.0},{"t":50,"t2":70,"d":-640,"d2":-550,"v":4.5},{"t":70,"t2":90,"d":-640,"d2":-550,"v":3.4},{"t":90,"t2":110,"d":-640,"d2":-550,"v":2.3},{"t":110,"t2":140,"d":-640,"d2":-550,"v":1.3},{"t":140,"t2":180,"d":-640,"d2":-550,"v":0.6}
  ],
  "hT0": [
    {"t":0,"t2":400,"d":-640,"d2":680,"v":0.15}
  ],
  "efbox": [
    {"p":"E","g":"Control","lo":420,"hi":445},{"p":"F","g":"Control","lo":320,"hi":370},{"p":"F","g":"Thapsigargin","lo":305,"hi":352}
  ],
  "efm": [
    {"p":"E","g":"Control","m":432},{"p":"E","g":"Thapsigargin","m":62},{"p":"F","g":"Control","m":345},{"p":"F","g":"Thapsigargin","m":327},{"p":"F","g":"0 Ca²⁺ + EGTA","m":120}
  ],
  "efp": [
    {"p":"E","g":"Control","n":1,"v":390},{"p":"E","g":"Control","n":2,"v":470},{"p":"E","g":"Control","n":3,"v":405},{"p":"E","g":"Control","n":4,"v":455},{"p":"E","g":"Control","n":5,"v":400},{"p":"E","g":"Control","n":6,"v":462},{"p":"E","g":"Control","n":7,"v":410},{"p":"E","g":"Control","n":8,"v":445},{"p":"E","g":"Control","n":9,"v":440},
    {"p":"E","g":"Thapsigargin","n":2,"v":55},{"p":"E","g":"Thapsigargin","n":3,"v":70},{"p":"E","g":"Thapsigargin","n":4,"v":50},{"p":"E","g":"Thapsigargin","n":5,"v":65},{"p":"E","g":"Thapsigargin","n":6,"v":60},{"p":"E","g":"Thapsigargin","n":7,"v":68},{"p":"E","g":"Thapsigargin","n":8,"v":58},
    {"p":"E","g":"0 Ca²⁺ + EGTA","n":3,"v":600},{"p":"E","g":"0 Ca²⁺ + EGTA","n":4,"v":605},{"p":"E","g":"0 Ca²⁺ + EGTA","n":5,"v":595},{"p":"E","g":"0 Ca²⁺ + EGTA","n":6,"v":608},{"p":"E","g":"0 Ca²⁺ + EGTA","n":7,"v":598},{"p":"E","g":"0 Ca²⁺ + EGTA","n":8,"v":602},
    {"p":"E","g":"Thapsigargin/0 Ca²⁺ + EGTA","n":3,"v":0},{"p":"E","g":"Thapsigargin/0 Ca²⁺ + EGTA","n":4,"v":0},{"p":"E","g":"Thapsigargin/0 Ca²⁺ + EGTA","n":5,"v":0},{"p":"E","g":"Thapsigargin/0 Ca²⁺ + EGTA","n":6,"v":0},{"p":"E","g":"Thapsigargin/0 Ca²⁺ + EGTA","n":7,"v":0},
    {"p":"F","g":"Control","n":1,"v":400},{"p":"F","g":"Control","n":2,"v":245},{"p":"F","g":"Control","n":3,"v":350},{"p":"F","g":"Control","n":5,"v":398},{"p":"F","g":"Control","n":6,"v":340},{"p":"F","g":"Control","n":8,"v":240},{"p":"F","g":"Control","n":9,"v":395},
    {"p":"F","g":"Thapsigargin","n":2,"v":345},{"p":"F","g":"Thapsigargin","n":3,"v":330},{"p":"F","g":"Thapsigargin","n":4,"v":110},{"p":"F","g":"Thapsigargin","n":5,"v":395},{"p":"F","g":"Thapsigargin","n":6,"v":300},{"p":"F","g":"Thapsigargin","n":7,"v":385},{"p":"F","g":"Thapsigargin","n":8,"v":320},
    {"p":"F","g":"0 Ca²⁺ + EGTA","n":2,"v":120},{"p":"F","g":"0 Ca²⁺ + EGTA","n":3,"v":130},{"p":"F","g":"0 Ca²⁺ + EGTA","n":4,"v":110},{"p":"F","g":"0 Ca²⁺ + EGTA","n":5,"v":125},{"p":"F","g":"0 Ca²⁺ + EGTA","n":6,"v":105},{"p":"F","g":"0 Ca²⁺ + EGTA","n":7,"v":132},{"p":"F","g":"0 Ca²⁺ + EGTA","n":8,"v":115},
    {"p":"F","g":"Thapsigargin/0 Ca²⁺ + EGTA","n":3,"v":0},{"p":"F","g":"Thapsigargin/0 Ca²⁺ + EGTA","n":4,"v":0},{"p":"F","g":"Thapsigargin/0 Ca²⁺ + EGTA","n":5,"v":0},{"p":"F","g":"Thapsigargin/0 Ca²⁺ + EGTA","n":6,"v":0},{"p":"F","g":"Thapsigargin/0 Ca²⁺ + EGTA","n":7,"v":0}
  ],
  "efs": [
    {"p":"E","g":"Thapsigargin","y":140,"l":"*"},{"p":"E","g":"0 Ca²⁺ + EGTA","y":600,"l":"*"},{"p":"E","g":"Thapsigargin/0 Ca²⁺ + EGTA","y":70,"l":"*"},
    {"p":"F","g":"0 Ca²⁺ + EGTA","y":175,"l":"*"},{"p":"F","g":"Thapsigargin/0 Ca²⁺ + EGTA","y":42,"l":"*"},{"p":"F","g":"Thapsigargin","y":428,"l":"N.S."}
  ]
},
"resolve": {"scale": {"color": "independent", "fill": "independent"}, "legend": {"color": "independent", "fill": "independent"}},
"spacing": 10,
"hconcat": [
  {
    "spacing": -8,
    "resolve": {"scale": {"color": "independent", "fill": "independent"}, "legend": {"color": "independent", "fill": "independent"}},
    "vconcat": [
      {
        "title": {"text": "A.", "anchor": "start", "frame": "bounds", "font": "Liberation Serif", "fontSize": 17, "fontWeight": "bold", "offset": 0, "dy": 18},
        "spacing": 3,
        "resolve": {"scale": {"color": "independent", "fill": "independent"}, "legend": {"color": "independent", "fill": "independent"}},
        "vconcat": [
          {
            "width": 197, "height": 110,
            "title": {"text": "Edge"},
            "data": {"name": "ed"},
            "encoding": {
              "x": {"field": "t", "type": "quantitative", "title": "Time (s)", "scale": {"domain": [4, 400], "nice": false}, "axis": {"values": [50,100,150,200,250,300,350,400], "labelOverlap": false, "labelFontSize": 8}}
            },
            "layer": [
              {"mark": {"type": "area", "opacity": 0.28},
               "encoding": {
                 "y": {"field": "lo", "type": "quantitative", "title": "ΔF/F", "scale": {"domain": [-0.5, 4], "nice": false}, "axis": {"values": [-0.5,0,1,2,3,4], "format": "~g", "labelOverlap": false, "labelFontSize": 8}},
                 "y2": {"field": "hi"},
                 "fill": {"field": "s", "type": "nominal", "scale": {"domain": ["Thapsigargin/0 Ca²⁺ + EGTA","0 Ca²⁺ + EGTA","Thapsigargin","Control"], "range": ["#009E73","#56B4E9","#E69F00","#000000"]}, "legend": null}
               }},
              {"mark": {"type": "line", "strokeWidth": 1.4},
               "encoding": {
                 "y": {"field": "v", "type": "quantitative", "title": "ΔF/F", "axis": {"values": [-0.5,0,1,2,3,4], "format": "~g", "labelOverlap": false, "labelFontSize": 8}},
                 "color": {"field": "s", "type": "nominal", "scale": {"domain": ["Control","Thapsigargin","0 Ca²⁺ + EGTA","Thapsigargin/0 Ca²⁺ + EGTA"], "range": ["#000000","#E69F00","#56B4E9","#009E73"]},
                   "legend": {"title": null, "orient": "top-right", "offset": 4, "symbolType": "stroke", "symbolStrokeWidth": 2, "symbolSize": 130, "labelFontSize": 7.5, "rowPadding": 1.5, "padding": 0, "labelOffset": 2}}
               }}
            ]
          },
          {
            "width": 197, "height": 107,
            "title": {"text": "Neighbors"},
            "data": {"name": "nb"},
            "encoding": {
              "x": {"field": "t", "type": "quantitative", "title": "Time (s)", "scale": {"domain": [4, 400], "nice": false}, "axis": {"values": [50,100,150,200,250,300,350,400], "labelOverlap": false, "labelFontSize": 8}}
            },
            "layer": [
              {"mark": {"type": "area", "opacity": 0.28},
               "encoding": {
                 "y": {"field": "lo", "type": "quantitative", "title": "ΔF/F", "scale": {"domain": [-0.5, 4], "nice": false}, "axis": {"values": [-0.5,0,1,2,3,4], "format": "~g", "labelOverlap": false, "labelFontSize": 8}},
                 "y2": {"field": "hi"},
                 "fill": {"field": "s", "type": "nominal", "scale": {"domain": ["Thapsigargin/0 Ca²⁺ + EGTA","0 Ca²⁺ + EGTA","Thapsigargin","Control"], "range": ["#009E73","#56B4E9","#E69F00","#000000"]}, "legend": null}
               }},
              {"mark": {"type": "line", "strokeWidth": 1.4},
               "encoding": {
                 "y": {"field": "v", "type": "quantitative", "title": "ΔF/F", "axis": {"values": [-0.5,0,1,2,3,4], "format": "~g", "labelOverlap": false, "labelFontSize": 8}},
                 "color": {"field": "s", "type": "nominal", "scale": {"domain": ["Control","Thapsigargin","0 Ca²⁺ + EGTA","Thapsigargin/0 Ca²⁺ + EGTA"], "range": ["#000000","#E69F00","#56B4E9","#009E73"]},
                   "legend": {"title": null, "orient": "top-right", "offset": 4, "symbolType": "stroke", "symbolStrokeWidth": 2, "symbolSize": 130, "labelFontSize": 7.5, "rowPadding": 1.5, "padding": 0, "labelOffset": 2}}
               }}
            ]
          }
        ]
      },
      {
        "width": 197, "height": 105,
        "title": {"text": "C.", "anchor": "start", "frame": "bounds", "font": "Liberation Serif", "fontSize": 17, "fontWeight": "bold", "offset": 0},
        "data": {"name": "cd"},
        "encoding": {
          "x": {"field": "d", "type": "quantitative", "title": "Distance from Scratch (μm)", "scale": {"domain": [0, 615], "nice": false}, "axis": {"values": [0,100,200,300,400,500], "labelOverlap": false, "labelFontSize": 8}}
        },
        "layer": [
          {"mark": {"type": "area", "opacity": 0.25},
           "encoding": {
             "y": {"field": "lo", "type": "quantitative", "title": "Peak ΔF/F", "scale": {"domain": [0, 8], "nice": false}, "axis": {"values": [0,2,4,6,8], "labelOverlap": false, "labelFontSize": 8}},
             "y2": {"field": "hi"},
             "fill": {"field": "s", "type": "nominal", "scale": {"domain": ["Thapsigargin/0 Ca²⁺ + EGTA","0 Ca²⁺ + EGTA","Thapsigargin","Control"], "range": ["#009E73","#56B4E9","#E69F00","#000000"]}, "legend": null}
           }},
          {"mark": {"type": "line", "strokeWidth": 1.4},
           "encoding": {
             "y": {"field": "v", "type": "quantitative", "title": "Peak ΔF/F", "axis": {"values": [0,2,4,6,8], "labelOverlap": false, "labelFontSize": 8}},
             "color": {"field": "s", "type": "nominal", "scale": {"domain": ["Control","Thapsigargin","0 Ca²⁺ + EGTA","Thapsigargin/0 Ca²⁺ + EGTA"], "range": ["#000000","#E69F00","#56B4E9","#009E73"]},
               "legend": {"title": null, "orient": "top-right", "offset": 4, "symbolType": "stroke", "symbolStrokeWidth": 2, "symbolSize": 130, "labelFontSize": 7.5, "rowPadding": 1.5, "padding": 0, "labelOffset": 2}}
           }}
        ]
      }
    ]
  },
  {
    "spacing": 28,
    "resolve": {"scale": {"color": "independent"}, "legend": {"color": "independent"}},
    "vconcat": [
      {
        "title": {"text": "B.", "anchor": "start", "frame": "bounds", "font": "Liberation Serif", "fontSize": 17, "fontWeight": "bold", "offset": 0, "dy": 18},
        "spacing": 8,
        "resolve": {"scale": {"color": "independent"}, "legend": {"color": "independent"}},
        "vconcat": [
          {
            "width": 172, "height": 68,
            "title": {"text": "Edge"},
            "layer": [
              {"data": {"name": "bars"}, "transform": [{"filter": "datum.p == 'Edge'"}],
               "mark": {"type": "bar"},
               "encoding": {
                 "x": {"field": "g", "type": "nominal", "sort": null, "title": null, "scale": {"domain": ["Control","Thapsigargin","0 Ca²⁺ + EGTA","Thapsigargin/0 Ca²⁺ + EGTA"], "paddingInner": 0.2, "paddingOuter": 0.1}, "axis": {"labels": false, "ticks": false, "domainColor": "#bbbbbb"}},
                 "y": {"field": "m", "type": "quantitative", "title": "Peak ΔF/F", "scale": {"domain": [0, 6], "nice": false}, "axis": {"values": [0,2,4,6], "labelOverlap": false}},
                 "color": {"field": "g", "type": "nominal", "scale": {"domain": ["Control","Thapsigargin","0 Ca²⁺ + EGTA","Thapsigargin/0 Ca²⁺ + EGTA"], "range": ["#999999","#E69F00","#56B4E9","#009E73"]}, "legend": null}
               }},
              {"data": {"name": "bars"}, "transform": [{"filter": "datum.p == 'Edge'"}],
               "mark": {"type": "errorbar", "ticks": true, "color": "black"},
               "encoding": {"x": {"field": "g", "type": "nominal", "title": null}, "y": {"field": "lo", "type": "quantitative", "title": "Peak ΔF/F", "axis": {"values": [0,2,4,6], "labelOverlap": false}}, "y2": {"field": "hi"}}},
              {"data": {"name": "pts"}, "transform": [{"filter": "datum.p == 'Edge'"}],
               "mark": {"type": "circle", "size": 6, "color": "black", "opacity": 1},
               "encoding": {"x": {"field": "g", "type": "nominal", "title": null}, "xOffset": {"field": "n", "type": "nominal", "scale": {"type": "point", "range": [9, 25]}}, "y": {"field": "v", "type": "quantitative", "title": "Peak ΔF/F", "axis": {"values": [0,2,4,6], "labelOverlap": false}}}},
              {"data": {"name": "sig"}, "transform": [{"filter": "datum.p == 'Edge'"}],
               "mark": {"type": "rule", "color": "#666666", "strokeWidth": 1.2},
               "encoding": {"x": {"field": "from", "type": "nominal", "title": null}, "x2": {"field": "to"}, "y": {"field": "y", "type": "quantitative", "title": "Peak ΔF/F", "axis": {"values": [0,2,4,6], "labelOverlap": false}}}},
              {"data": {"name": "sig"}, "transform": [{"filter": "datum.p == 'Edge' && datum.to == 'Thapsigargin'"}],
               "mark": {"type": "text", "baseline": "bottom", "dy": -1, "fontSize": 7, "color": "#444444"},
               "encoding": {"x": {"field": "to", "type": "nominal", "title": null, "bandPosition": -0.125}, "y": {"field": "y", "type": "quantitative", "title": "Peak ΔF/F", "axis": {"values": [0,2,4,6], "labelOverlap": false}}, "text": {"field": "l"}}},
              {"data": {"name": "sig"}, "transform": [{"filter": "datum.p == 'Edge' && datum.to == '0 Ca²⁺ + EGTA'"}],
               "mark": {"type": "text", "baseline": "bottom", "dy": -1, "fontSize": 7, "color": "#444444"},
               "encoding": {"x": {"datum": "Thapsigargin", "type": "nominal", "title": null, "bandPosition": 0.5}, "y": {"field": "y", "type": "quantitative", "title": "Peak ΔF/F", "axis": {"values": [0,2,4,6], "labelOverlap": false}}, "text": {"field": "l"}}},
              {"data": {"name": "sig"}, "transform": [{"filter": "datum.p == 'Edge' && datum.to == 'Thapsigargin/0 Ca²⁺ + EGTA'"}],
               "mark": {"type": "text", "baseline": "bottom", "dy": -1, "fontSize": 7, "color": "#444444"},
               "encoding": {"x": {"datum": "0 Ca²⁺ + EGTA", "type": "nominal", "title": null, "bandPosition": -0.125}, "y": {"field": "y", "type": "quantitative", "title": "Peak ΔF/F", "axis": {"values": [0,2,4,6], "labelOverlap": false}}, "text": {"field": "l"}}}
            ]
          },
          {
            "width": 172, "height": 69,
            "title": {"text": "Neighbors"},
            "layer": [
              {"data": {"name": "bars"}, "transform": [{"filter": "datum.p == 'Nb'"}],
               "mark": {"type": "bar"},
               "encoding": {
                 "x": {"field": "g", "type": "nominal", "sort": null, "title": null, "scale": {"domain": ["Control","Thapsigargin","0 Ca²⁺ + EGTA","Thapsigargin/0 Ca²⁺ + EGTA"], "paddingInner": 0.2, "paddingOuter": 0.1}, "axis": {"labels": false, "ticks": false, "domainColor": "#bbbbbb"}},
                 "y": {"field": "m", "type": "quantitative", "title": "Peak ΔF/F", "scale": {"domain": [0, 6], "nice": false}, "axis": {"values": [0,2,4,6], "labelOverlap": false}},
                 "color": {"field": "g", "type": "nominal", "scale": {"domain": ["Control","Thapsigargin","0 Ca²⁺ + EGTA","Thapsigargin/0 Ca²⁺ + EGTA"], "range": ["#999999","#E69F00","#56B4E9","#009E73"]}, "legend": null}
               }},
              {"data": {"name": "bars"}, "transform": [{"filter": "datum.p == 'Nb'"}],
               "mark": {"type": "errorbar", "ticks": true, "color": "black"},
               "encoding": {"x": {"field": "g", "type": "nominal", "title": null}, "y": {"field": "lo", "type": "quantitative", "title": "Peak ΔF/F", "axis": {"values": [0,2,4,6], "labelOverlap": false}}, "y2": {"field": "hi"}}},
              {"data": {"name": "pts"}, "transform": [{"filter": "datum.p == 'Nb'"}],
               "mark": {"type": "circle", "size": 6, "color": "black", "opacity": 1},
               "encoding": {"x": {"field": "g", "type": "nominal", "title": null}, "xOffset": {"field": "n", "type": "nominal", "scale": {"type": "point", "range": [9, 25]}}, "y": {"field": "v", "type": "quantitative", "title": "Peak ΔF/F", "axis": {"values": [0,2,4,6], "labelOverlap": false}}}},
              {"data": {"name": "sig"}, "transform": [{"filter": "datum.p == 'Nb'"}],
               "mark": {"type": "rule", "color": "#666666", "strokeWidth": 1.2},
               "encoding": {"x": {"field": "from", "type": "nominal", "title": null}, "x2": {"field": "to"}, "y": {"field": "y", "type": "quantitative", "title": "Peak ΔF/F", "axis": {"values": [0,2,4,6], "labelOverlap": false}}}},
              {"data": {"name": "sig"}, "transform": [{"filter": "datum.p == 'Nb' && datum.to == 'Thapsigargin'"}],
               "mark": {"type": "text", "baseline": "bottom", "dy": -1, "fontSize": 7, "color": "#444444"},
               "encoding": {"x": {"field": "to", "type": "nominal", "title": null, "bandPosition": -0.125}, "y": {"field": "y", "type": "quantitative", "title": "Peak ΔF/F", "axis": {"values": [0,2,4,6], "labelOverlap": false}}, "text": {"field": "l"}}},
              {"data": {"name": "sig"}, "transform": [{"filter": "datum.p == 'Nb' && datum.to == '0 Ca²⁺ + EGTA'"}],
               "mark": {"type": "text", "baseline": "bottom", "dy": -1, "fontSize": 7, "color": "#444444"},
               "encoding": {"x": {"datum": "Thapsigargin", "type": "nominal", "title": null, "bandPosition": 0.5}, "y": {"field": "y", "type": "quantitative", "title": "Peak ΔF/F", "axis": {"values": [0,2,4,6], "labelOverlap": false}}, "text": {"field": "l"}}},
              {"data": {"name": "sig"}, "transform": [{"filter": "datum.p == 'Nb' && datum.to == 'Thapsigargin/0 Ca²⁺ + EGTA'"}],
               "mark": {"type": "text", "baseline": "bottom", "dy": -1, "fontSize": 7, "color": "#444444"},
               "encoding": {"x": {"datum": "0 Ca²⁺ + EGTA", "type": "nominal", "title": null, "bandPosition": -0.125}, "y": {"field": "y", "type": "quantitative", "title": "Peak ΔF/F", "axis": {"values": [0,2,4,6], "labelOverlap": false}}, "text": {"field": "l"}}}
            ]
          },
          {
            "width": 172, "height": 77,
            "title": {"text": "Persistence", "offset": 0},
            "layer": [
              {"data": {"name": "bars"}, "transform": [{"filter": "datum.p == 'Pers'"}],
               "mark": {"type": "bar"},
               "encoding": {
                 "x": {"field": "g", "type": "nominal", "sort": null, "title": null, "scale": {"domain": ["Control","Thapsigargin","0 Ca²⁺ + EGTA","Thapsigargin/0 Ca²⁺ + EGTA"], "paddingInner": 0.2, "paddingOuter": 0.1},
                   "axis": {"ticks": false, "labelAngle": 0, "labelColor": "#333333", "labelFontSize": 7.5, "labelPadding": 4, "labelLineHeight": 10, "domainColor": "#bbbbbb", "labelOverlap": false,
                     "labelExpr": "datum.value == '0 Ca²⁺ + EGTA' ? ['0 Ca²⁺', '+ EGTA'] : datum.value == 'Thapsigargin/0 Ca²⁺ + EGTA' ? ['Thapsigargin/', '0 Ca²⁺ + EGTA'] : datum.value"}},
                 "y": {"field": "m", "type": "quantitative", "title": "ΔF/F at 6 min", "scale": {"domain": [-0.5, 1.5], "nice": false}, "axis": {"values": [-0.5,0,0.5,1,1.5], "format": "~g", "labelOverlap": false}},
                 "color": {"field": "g", "type": "nominal", "scale": {"domain": ["Control","Thapsigargin","0 Ca²⁺ + EGTA","Thapsigargin/0 Ca²⁺ + EGTA"], "range": ["#999999","#E69F00","#56B4E9","#009E73"]}, "legend": null}
               }},
              {"data": {"name": "bars"}, "transform": [{"filter": "datum.p == 'Pers'"}],
               "mark": {"type": "errorbar", "ticks": true, "color": "black"},
               "encoding": {"x": {"field": "g", "type": "nominal", "title": null}, "y": {"field": "lo", "type": "quantitative", "title": "ΔF/F at 6 min", "axis": {"values": [-0.5,0,0.5,1,1.5], "format": "~g", "labelOverlap": false}}, "y2": {"field": "hi"}}},
              {"data": {"name": "pts"}, "transform": [{"filter": "datum.p == 'Pers'"}],
               "mark": {"type": "circle", "size": 6, "color": "black", "opacity": 1},
               "encoding": {"x": {"field": "g", "type": "nominal", "title": null}, "xOffset": {"field": "n", "type": "nominal", "scale": {"type": "point", "range": [9, 25]}}, "y": {"field": "v", "type": "quantitative", "title": "ΔF/F at 6 min", "axis": {"values": [-0.5,0,0.5,1,1.5], "format": "~g", "labelOverlap": false}}}},
              {"data": {"name": "sig"}, "transform": [{"filter": "datum.p == 'Pers'"}],
               "mark": {"type": "rule", "color": "#666666", "strokeWidth": 1.2},
               "encoding": {"x": {"field": "from", "type": "nominal", "title": null}, "x2": {"field": "to"}, "y": {"field": "y", "type": "quantitative", "title": "ΔF/F at 6 min", "axis": {"values": [-0.5,0,0.5,1,1.5], "format": "~g", "labelOverlap": false}}}},
              {"data": {"name": "sig"}, "transform": [{"filter": "datum.p == 'Pers' && datum.to == 'Thapsigargin'"}],
               "mark": {"type": "text", "baseline": "bottom", "dy": -1, "fontSize": 7, "color": "#444444"},
               "encoding": {"x": {"field": "to", "type": "nominal", "title": null, "bandPosition": -0.125}, "y": {"field": "y", "type": "quantitative", "title": "ΔF/F at 6 min", "axis": {"values": [-0.5,0,0.5,1,1.5], "format": "~g", "labelOverlap": false}}, "text": {"field": "l"}}},
              {"data": {"name": "sig"}, "transform": [{"filter": "datum.p == 'Pers' && datum.to == '0 Ca²⁺ + EGTA'"}],
               "mark": {"type": "text", "baseline": "bottom", "dy": -1, "fontSize": 7, "color": "#444444"},
               "encoding": {"x": {"datum": "Thapsigargin", "type": "nominal", "title": null, "bandPosition": 0.5}, "y": {"field": "y", "type": "quantitative", "title": "ΔF/F at 6 min", "axis": {"values": [-0.5,0,0.5,1,1.5], "format": "~g", "labelOverlap": false}}, "text": {"field": "l"}}},
              {"data": {"name": "sig"}, "transform": [{"filter": "datum.p == 'Pers' && datum.to == 'Thapsigargin/0 Ca²⁺ + EGTA'"}],
               "mark": {"type": "text", "baseline": "bottom", "dy": -1, "fontSize": 7, "color": "#444444"},
               "encoding": {"x": {"datum": "0 Ca²⁺ + EGTA", "type": "nominal", "title": null, "bandPosition": -0.125}, "y": {"field": "y", "type": "quantitative", "title": "ΔF/F at 6 min", "axis": {"values": [-0.5,0,0.5,1,1.5], "format": "~g", "labelOverlap": false}}, "text": {"field": "l"}}}
            ]
          }
        ]
      },
      {
        "width": 176, "height": 63,
        "title": {"text": "150 µm from Scratch"},
        "layer": [
          {"data": {"name": "bars"}, "transform": [{"filter": "datum.p == '150'"}],
           "mark": {"type": "bar"},
           "encoding": {
             "x": {"field": "g", "type": "nominal", "sort": null, "title": null, "scale": {"domain": ["Control","Thapsigargin","0 Ca²⁺ + EGTA","Thapsigargin/0 Ca²⁺ + EGTA"], "paddingInner": 0.2, "paddingOuter": 0.05},
               "axis": {"ticks": false, "labelAngle": 0, "labelColor": "#333333", "labelFontSize": 7.5, "labelPadding": 4, "labelLineHeight": 10, "domainColor": "#bbbbbb", "labelOverlap": false,
                 "labelExpr": "datum.value == '0 Ca²⁺ + EGTA' ? ['0 Ca²⁺', '+ EGTA'] : datum.value == 'Thapsigargin/0 Ca²⁺ + EGTA' ? ['Thapsigargin/', '0 Ca²⁺ + EGTA'] : datum.value"}},
             "y": {"field": "m", "type": "quantitative", "title": "Peak ΔF/F", "scale": {"domain": [0, 8], "nice": false}, "axis": {"values": [0,2,4,6,8], "labelOverlap": false}},
             "color": {"field": "g", "type": "nominal", "scale": {"domain": ["Control","Thapsigargin","0 Ca²⁺ + EGTA","Thapsigargin/0 Ca²⁺ + EGTA"], "range": ["#999999","#E69F00","#56B4E9","#009E73"]}, "legend": null}
           }},
          {"data": {"name": "bars"}, "transform": [{"filter": "datum.p == '150'"}],
           "mark": {"type": "errorbar", "ticks": true, "color": "black"},
           "encoding": {"x": {"field": "g", "type": "nominal", "title": null}, "y": {"field": "lo", "type": "quantitative", "title": "Peak ΔF/F", "axis": {"values": [0,2,4,6,8], "labelOverlap": false}}, "y2": {"field": "hi"}}},
          {"data": {"name": "pts"}, "transform": [{"filter": "datum.p == '150'"}],
           "mark": {"type": "circle", "size": 6, "color": "black", "opacity": 1},
           "encoding": {"x": {"field": "g", "type": "nominal", "title": null}, "xOffset": {"field": "n", "type": "nominal", "scale": {"type": "point", "range": [10, 26]}}, "y": {"field": "v", "type": "quantitative", "title": "Peak ΔF/F", "axis": {"values": [0,2,4,6,8], "labelOverlap": false}}}},
          {"data": {"name": "sig"}, "transform": [{"filter": "datum.p == '150'"}],
           "mark": {"type": "rule", "color": "#666666", "strokeWidth": 1.2},
           "encoding": {"x": {"field": "from", "type": "nominal", "title": null}, "x2": {"field": "to"}, "y": {"field": "y", "type": "quantitative", "title": "Peak ΔF/F", "axis": {"values": [0,2,4,6,8], "labelOverlap": false}}}},
          {"data": {"name": "sig"}, "transform": [{"filter": "datum.p == '150' && datum.to == 'Thapsigargin'"}],
           "mark": {"type": "text", "baseline": "bottom", "dy": -1, "fontSize": 7, "color": "#444444"},
           "encoding": {"x": {"field": "to", "type": "nominal", "title": null, "bandPosition": -0.125}, "y": {"field": "y", "type": "quantitative", "title": "Peak ΔF/F", "axis": {"values": [0,2,4,6,8], "labelOverlap": false}}, "text": {"field": "l"}}},
          {"data": {"name": "sig"}, "transform": [{"filter": "datum.p == '150' && datum.to == '0 Ca²⁺ + EGTA'"}],
           "mark": {"type": "text", "baseline": "bottom", "dy": -1, "fontSize": 7, "color": "#444444"},
           "encoding": {"x": {"datum": "Thapsigargin", "type": "nominal", "title": null, "bandPosition": 0.5}, "y": {"field": "y", "type": "quantitative", "title": "Peak ΔF/F", "axis": {"values": [0,2,4,6,8], "labelOverlap": false}}, "text": {"field": "l"}}},
          {"data": {"name": "sig"}, "transform": [{"filter": "datum.p == '150' && datum.to == 'Thapsigargin/0 Ca²⁺ + EGTA'"}],
           "mark": {"type": "text", "baseline": "bottom", "dy": -1, "fontSize": 7, "color": "#444444"},
           "encoding": {"x": {"datum": "0 Ca²⁺ + EGTA", "type": "nominal", "title": null, "bandPosition": -0.125}, "y": {"field": "y", "type": "quantitative", "title": "Peak ΔF/F", "axis": {"values": [0,2,4,6,8], "labelOverlap": false}}, "text": {"field": "l"}}}
        ]
      }
    ]
  },
  {
    "spacing": 4,
    "resolve": {"scale": {"color": "independent"}, "legend": {"color": "independent"}},
    "vconcat": [
      {
        "title": {"text": "D.", "anchor": "start", "frame": "bounds", "font": "Liberation Serif", "fontSize": 17, "fontWeight": "bold", "offset": 0, "dy": 18},
        "spacing": 12,
        "resolve": {"scale": {"color": "independent"}, "legend": {"color": "independent"}},
        "vconcat": [
          {
            "spacing": 8,
            "resolve": {"scale": {"color": "independent"}, "legend": {"color": "independent"}},
            "hconcat": [
              {
                "width": 98, "height": 85,
                "title": {"text": "Control", "fontSize": 9.5},
                "data": {"name": "hC"},
                "mark": {"type": "rect", "clip": true},
                "view": {"stroke": "#c8c8e0"},
                "encoding": {
                  "x": {"field": "t", "type": "quantitative", "title": "Time (s)", "scale": {"domain": [0, 400], "nice": false}, "axis": {"values": [100,200,300,400], "labelFontSize": 7, "titleFontSize": 7.5, "ticks": false, "labelPadding": 2, "titlePadding": 1, "labelOverlap": false}},
                  "x2": {"field": "t2"},
                  "y": {"field": "d", "type": "quantitative", "title": "Distance from Scratch (μm)", "scale": {"domain": [-600, 670], "reverse": true, "nice": false, "zero": false}, "axis": {"values": [-400,-200,0,200,400,600], "labelFontSize": 7, "titleFontSize": 7.5, "ticks": false, "labelPadding": 2, "titlePadding": 1, "labelOverlap": false}},
                  "y2": {"field": "d2"},
                  "color": {"field": "v", "type": "quantitative", "scale": {"domain": [0, 5], "range": ["#352a87","#0363e1","#1485d4","#06a7c6","#38b99e","#92bf73","#d9ba56","#fcce2e","#f9fb0e"]},
                    "legend": {"title": "ΔF/F", "orient": "right", "direction": "vertical", "gradientLength": 85, "gradientThickness": 6, "values": [0,1,2,3,4,5], "labelFontSize": 6.5, "titleFontSize": 7.5, "titleFontWeight": "normal", "titleOrient": "right", "offset": 6, "padding": 0, "labelOffset": 2, "gradientStrokeWidth": 0}}
                }
              },
              {
                "width": 98, "height": 85,
                "title": {"text": "Thapsigargin", "fontSize": 9.5},
                "data": {"name": "hT"},
                "mark": {"type": "rect", "clip": true},
                "view": {"stroke": "#c8c8e0"},
                "encoding": {
                  "x": {"field": "t", "type": "quantitative", "title": "Time (s)", "scale": {"domain": [0, 400], "nice": false}, "axis": {"values": [100,200,300,400], "labelFontSize": 7, "titleFontSize": 7.5, "ticks": false, "labelPadding": 2, "titlePadding": 1, "labelOverlap": false}},
                  "x2": {"field": "t2"},
                  "y": {"field": "d", "type": "quantitative", "title": "Distance from Scratch (μm)", "scale": {"domain": [-600, 670], "reverse": true, "nice": false, "zero": false}, "axis": {"values": [-400,-200,0,200,400,600], "labelFontSize": 7, "titleFontSize": 7.5, "ticks": false, "labelPadding": 2, "titlePadding": 1, "labelOverlap": false}},
                  "y2": {"field": "d2"},
                  "color": {"field": "v", "type": "quantitative", "scale": {"domain": [0, 5], "range": ["#352a87","#0363e1","#1485d4","#06a7c6","#38b99e","#92bf73","#d9ba56","#fcce2e","#f9fb0e"]},
                    "legend": {"title": "ΔF/F", "orient": "right", "direction": "vertical", "gradientLength": 85, "gradientThickness": 6, "values": [0,1,2,3,4,5], "labelFontSize": 6.5, "titleFontSize": 7.5, "titleFontWeight": "normal", "titleOrient": "right", "offset": 6, "padding": 0, "labelOffset": 2, "gradientStrokeWidth": 0}}
                }
              }
            ]
          },
          {
            "spacing": 8,
            "resolve": {"scale": {"color": "independent"}, "legend": {"color": "independent"}},
            "hconcat": [
              {
                "width": 98, "height": 85,
                "title": {"text": "0 Ca²⁺ + EGTA", "fontSize": 9.5},
                "data": {"name": "h0"},
                "mark": {"type": "rect", "clip": true},
                "view": {"stroke": "#c8c8e0"},
                "encoding": {
                  "x": {"field": "t", "type": "quantitative", "title": "Time (s)", "scale": {"domain": [0, 400], "nice": false}, "axis": {"values": [100,200,300,400], "labelFontSize": 7, "titleFontSize": 7.5, "ticks": false, "labelPadding": 2, "titlePadding": 1, "labelOverlap": false}},
                  "x2": {"field": "t2"},
                  "y": {"field": "d", "type": "quantitative", "title": "Distance from Scratch (μm)", "scale": {"domain": [-630, 660], "reverse": true, "nice": false, "zero": false}, "axis": {"values": [-600,-400,-200,0,200,400,600], "labelFontSize": 7, "titleFontSize": 7.5, "ticks": false, "labelPadding": 2, "titlePadding": 1, "labelOverlap": false}},
                  "y2": {"field": "d2"},
                  "color": {"field": "v", "type": "quantitative", "scale": {"domain": [0, 5], "range": ["#352a87","#0363e1","#1485d4","#06a7c6","#38b99e","#92bf73","#d9ba56","#fcce2e","#f9fb0e"]},
                    "legend": {"title": "ΔF/F", "orient": "right", "direction": "vertical", "gradientLength": 85, "gradientThickness": 6, "values": [0,1,2,3,4,5], "labelFontSize": 6.5, "titleFontSize": 7.5, "titleFontWeight": "normal", "titleOrient": "right", "offset": 6, "padding": 0, "labelOffset": 2, "gradientStrokeWidth": 0}}
                }
              },
              {
                "width": 98, "height": 85,
                "title": {"text": "Thapsigargin/0 Ca²⁺ + EGTA", "fontSize": 9.5},
                "data": {"name": "hT0"},
                "mark": {"type": "rect", "clip": true},
                "view": {"stroke": "#c8c8e0"},
                "encoding": {
                  "x": {"field": "t", "type": "quantitative", "title": "Time (s)", "scale": {"domain": [0, 400], "nice": false}, "axis": {"values": [100,200,300,400], "labelFontSize": 7, "titleFontSize": 7.5, "ticks": false, "labelPadding": 2, "titlePadding": 1, "labelOverlap": false}},
                  "x2": {"field": "t2"},
                  "y": {"field": "d", "type": "quantitative", "title": "Distance from Scratch (μm)", "scale": {"domain": [-630, 660], "reverse": true, "nice": false, "zero": false}, "axis": {"values": [-600,-400,-200,0,200,400,600], "labelFontSize": 7, "titleFontSize": 7.5, "ticks": false, "labelPadding": 2, "titlePadding": 1, "labelOverlap": false}},
                  "y2": {"field": "d2"},
                  "color": {"field": "v", "type": "quantitative", "scale": {"domain": [0, 5], "range": ["#352a87","#0363e1","#1485d4","#06a7c6","#38b99e","#92bf73","#d9ba56","#fcce2e","#f9fb0e"]},
                    "legend": {"title": "ΔF/F", "orient": "right", "direction": "vertical", "gradientLength": 85, "gradientThickness": 6, "values": [0,1,2,3,4,5], "labelFontSize": 6.5, "titleFontSize": 7.5, "titleFontWeight": "normal", "titleOrient": "right", "offset": 6, "padding": 0, "labelOffset": 2, "gradientStrokeWidth": 0}}
                }
              }
            ]
          }
        ]
      },
      {
        "spacing": 30,
        "bounds": "flush",
        "hconcat": [
          {
            "width": 126, "height": 103,
            "title": {"text": "E.", "anchor": "start", "frame": "bounds", "font": "Liberation Serif", "fontSize": 17, "fontWeight": "bold", "offset": 0},
            "view": {"stroke": "#cccccc"},
            "layer": [
              {"data": {"name": "efbox"}, "transform": [{"filter": "datum.p == 'E'"}],
               "mark": {"type": "bar", "width": 12, "color": "#4da3ee"},
               "encoding": {
                 "x": {"field": "g", "type": "nominal", "sort": null, "title": null, "scale": {"domain": ["Control","Thapsigargin","0 Ca²⁺ + EGTA","Thapsigargin/0 Ca²⁺ + EGTA"], "paddingInner": 0, "paddingOuter": 0.17},
                   "axis": {"domain": false, "ticks": false, "labelAngle": 45, "labelAlign": "left", "labelBaseline": "top", "labelColor": "#111111", "labelFontSize": 7.5, "labelPadding": 5, "labelLineHeight": 9, "labelOverlap": false,
                     "labelExpr": "datum.value == 'Thapsigargin/0 Ca²⁺ + EGTA' ? ['Thapsigargin/', '0 Ca²⁺ + EGTA'] : datum.value"}},
                 "y": {"field": "lo", "type": "quantitative", "title": "Distance (μms)", "scale": {"domain": [-30, 660], "nice": false}, "axis": {"values": [0,100,200,300,400,500,600], "tickColor": "#bbbbbb", "domain": false, "labelOverlap": false}},
                 "y2": {"field": "hi"}
               }},
              {"data": {"name": "efm"}, "transform": [{"filter": "datum.p == 'E'"}],
               "mark": {"type": "tick", "color": "#9b3a6a", "thickness": 1.3, "size": 12},
               "encoding": {"x": {"field": "g", "type": "nominal", "title": null}, "y": {"field": "m", "type": "quantitative", "title": "Distance (μms)", "axis": {"values": [0,100,200,300,400,500,600], "tickColor": "#bbbbbb", "domain": false, "labelOverlap": false}}}},
              {"data": {"name": "efp"}, "transform": [{"filter": "datum.p == 'E'"}],
               "mark": {"type": "point", "size": 9, "color": "#888888", "strokeWidth": 0.8},
               "encoding": {"x": {"field": "g", "type": "nominal", "title": null}, "xOffset": {"field": "n", "type": "nominal", "scale": {"type": "point", "range": [7, 22]}}, "y": {"field": "v", "type": "quantitative", "title": "Distance (μms)", "axis": {"values": [0,100,200,300,400,500,600], "tickColor": "#bbbbbb", "domain": false, "labelOverlap": false}}}},
              {"data": {"name": "efs"}, "transform": [{"filter": "datum.p == 'E' && datum.g != '0 Ca²⁺ + EGTA'"}],
               "mark": {"type": "text", "fontSize": 12, "baseline": "middle", "dy": 3, "color": "#222222"},
               "encoding": {"x": {"field": "g", "type": "nominal", "title": null}, "y": {"field": "y", "type": "quantitative", "title": "Distance (μms)", "axis": {"values": [0,100,200,300,400,500,600], "tickColor": "#bbbbbb", "domain": false, "labelOverlap": false}}, "text": {"field": "l"}}},
              {"data": {"name": "efs"}, "transform": [{"filter": "datum.p == 'E' && datum.g == '0 Ca²⁺ + EGTA'"}],
               "mark": {"type": "text", "fontSize": 12, "baseline": "middle", "dy": 3, "dx": -9, "color": "#222222"},
               "encoding": {"x": {"field": "g", "type": "nominal", "title": null}, "y": {"field": "y", "type": "quantitative", "title": "Distance (μms)", "axis": {"values": [0,100,200,300,400,500,600], "tickColor": "#bbbbbb", "domain": false, "labelOverlap": false}}, "text": {"field": "l"}}}
            ]
          },
          {
            "width": 126, "height": 103,
            "title": {"text": "F.", "anchor": "start", "frame": "bounds", "font": "Liberation Serif", "fontSize": 17, "fontWeight": "bold", "offset": 0},
            "view": {"stroke": "#cccccc"},
            "layer": [
              {"data": {"name": "efbox"}, "transform": [{"filter": "datum.p == 'F'"}],
               "mark": {"type": "bar", "width": 12, "color": "#1E88E5"},
               "encoding": {
                 "x": {"field": "g", "type": "nominal", "sort": null, "title": null, "scale": {"domain": ["Control","Thapsigargin","0 Ca²⁺ + EGTA","Thapsigargin/0 Ca²⁺ + EGTA"], "paddingInner": 0, "paddingOuter": 0.17},
                   "axis": {"domain": false, "ticks": false, "labelAngle": 45, "labelAlign": "left", "labelBaseline": "top", "labelColor": "#111111", "labelFontSize": 7.5, "labelPadding": 5, "labelLineHeight": 9, "labelOverlap": false,
                     "labelExpr": "datum.value == 'Thapsigargin/0 Ca²⁺ + EGTA' ? ['Thapsigargin/', '0 Ca²⁺ + EGTA'] : datum.value"}},
                 "y": {"field": "lo", "type": "quantitative", "title": "time (seconds)", "scale": {"domain": [-30, 455], "nice": false}, "axis": {"values": [0,100,200,300,400], "tickColor": "#bbbbbb", "domain": false, "labelOverlap": false}},
                 "y2": {"field": "hi"}
               }},
              {"data": {"name": "efm"}, "transform": [{"filter": "datum.p == 'F'"}],
               "mark": {"type": "tick", "color": "#b0406a", "thickness": 1.3, "size": 12},
               "encoding": {"x": {"field": "g", "type": "nominal", "title": null}, "y": {"field": "m", "type": "quantitative", "title": "time (seconds)", "axis": {"values": [0,100,200,300,400], "tickColor": "#bbbbbb", "domain": false, "labelOverlap": false}}}},
              {"data": {"name": "efp"}, "transform": [{"filter": "datum.p == 'F'"}],
               "mark": {"type": "point", "size": 9, "color": "#888888", "strokeWidth": 0.8},
               "encoding": {"x": {"field": "g", "type": "nominal", "title": null}, "xOffset": {"field": "n", "type": "nominal", "scale": {"type": "point", "range": [7, 22]}}, "y": {"field": "v", "type": "quantitative", "title": "time (seconds)", "axis": {"values": [0,100,200,300,400], "tickColor": "#bbbbbb", "domain": false, "labelOverlap": false}}}},
              {"data": {"name": "efs"}, "transform": [{"filter": "datum.p == 'F' && datum.l == '*'"}],
               "mark": {"type": "text", "fontSize": 12, "baseline": "middle", "dy": 3, "color": "#222222"},
               "encoding": {"x": {"field": "g", "type": "nominal", "title": null}, "y": {"field": "y", "type": "quantitative", "title": "time (seconds)", "axis": {"values": [0,100,200,300,400], "tickColor": "#bbbbbb", "domain": false, "labelOverlap": false}}, "text": {"field": "l"}}},
              {"data": {"name": "efs"}, "transform": [{"filter": "datum.p == 'F' && datum.l != '*'"}],
               "mark": {"type": "text", "fontSize": 7.5, "baseline": "middle", "color": "#222222"},
               "encoding": {"x": {"field": "g", "type": "nominal", "title": null}, "y": {"field": "y", "type": "quantitative", "title": "time (seconds)", "axis": {"values": [0,100,200,300,400], "tickColor": "#bbbbbb", "domain": false, "labelOverlap": false}}, "text": {"field": "l"}}}
            ]
          }
        ]
      }
    ]
  }
]
}
